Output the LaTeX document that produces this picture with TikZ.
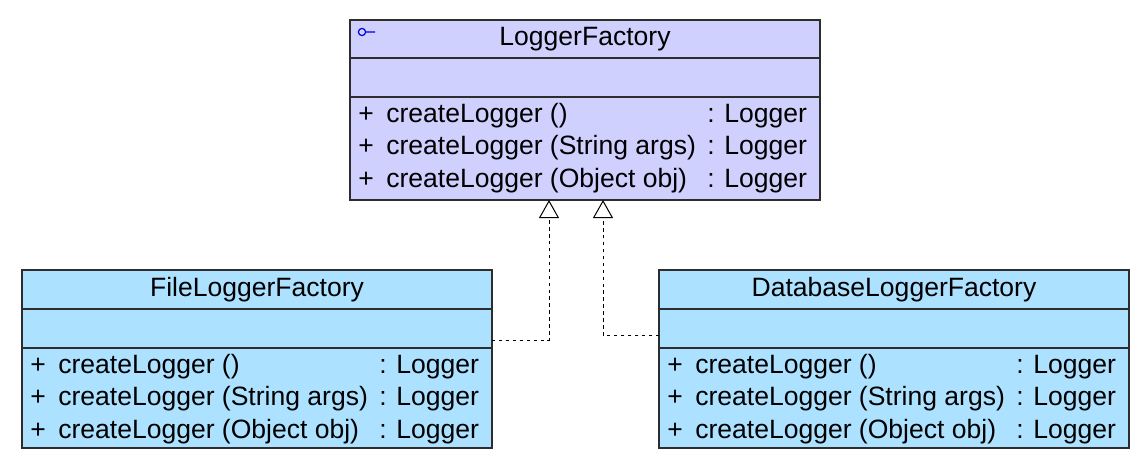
\documentclass[tikz,border=0pt]{standalone}
\usepackage{fontspec}
\setmainfont{Liberation Sans}
\usetikzlibrary{arrows.meta}

\definecolor{factoryfill}{RGB}{208,208,255}
\definecolor{concretefill}{RGB}{172,226,255}
\definecolor{edgegray}{RGB}{45,45,45}

\tikzset{
  compart/.style={draw=edgegray, line width=1pt, anchor=north west, inner sep=0pt,
    outer sep=0pt, minimum width=352.5pt, minimum height=#1},
  rowtxt/.style={anchor=base west, inner sep=0pt},
  realize/.style={draw=black, line width=0.7pt, dash pattern=on 2.6pt off 2.6pt,
    -{Triangle[length=13.5pt, width=15pt, fill=white, line width=0.75pt]}},
}

\begin{document}
\begin{tikzpicture}[x=0.75pt,y=0.75pt,yscale=-1, every node/.style={font=\fontsize{19.9pt}{24pt}\selectfont}]
\useasboundingbox (0,0) rectangle (1144,468);

% LoggerFactory (abstract factory)
\node[compart=28.5pt, fill=factoryfill] (lf-head) at (350,20) {LoggerFactory};
\node[compart=29.25pt, fill=factoryfill] (lf-attr) at (lf-head.south west) {};
\node[compart=77.25pt, fill=factoryfill] (lf-meth) at (lf-attr.south west) {};
% interface icon
\draw[blue!85!black, line width=0.9pt] (362,32) circle[radius=2.7pt] (365.6,32) -- (375,32);

% FileLoggerFactory
\node[compart=29.25pt, fill=concretefill] (fl-head) at (22,270) {FileLoggerFactory};
\node[compart=29.25pt, fill=concretefill] (fl-attr) at (fl-head.south west) {};
\node[compart=75pt, fill=concretefill] (fl-meth) at (fl-attr.south west) {};

% DatabaseLoggerFactory
\node[compart=29.25pt, fill=concretefill] (dl-head) at (659,270) {DatabaseLoggerFactory};
\node[compart=29.25pt, fill=concretefill] (dl-attr) at (dl-head.south west) {};
\node[compart=75pt, fill=concretefill] (dl-meth) at (dl-attr.south west) {};

% method rows
\foreach \cx/\cy/\cn in {350/122/lf, 22/373/fl, 659/373/dl} {
  \foreach \i/\sig in {0/{()}, 1/{(String args)}, 2/{(Object obj)}} {
    \node[rowtxt] (\cn-plus\i) at (\cx+8,\cy+32.5*\i) {+};
    \node[rowtxt] (\cn-name\i) at (\cx+36,\cy+32.5*\i) {createLogger \sig};
    \node[rowtxt] (\cn-type\i) at (\cx+357,\cy+32.5*\i) {: Logger};
  }
}

% realization arrows
\coordinate (tipL) at ([xshift=-27pt]lf-meth.south);
\coordinate (tipR) at ([xshift=13.5pt]lf-meth.south);
\draw[realize] ([yshift=-6pt]fl-attr.south east) -| (tipL);
\draw[realize] ([yshift=-9.75pt]dl-attr.south west) -| (tipR);
\end{tikzpicture}
\end{document}
